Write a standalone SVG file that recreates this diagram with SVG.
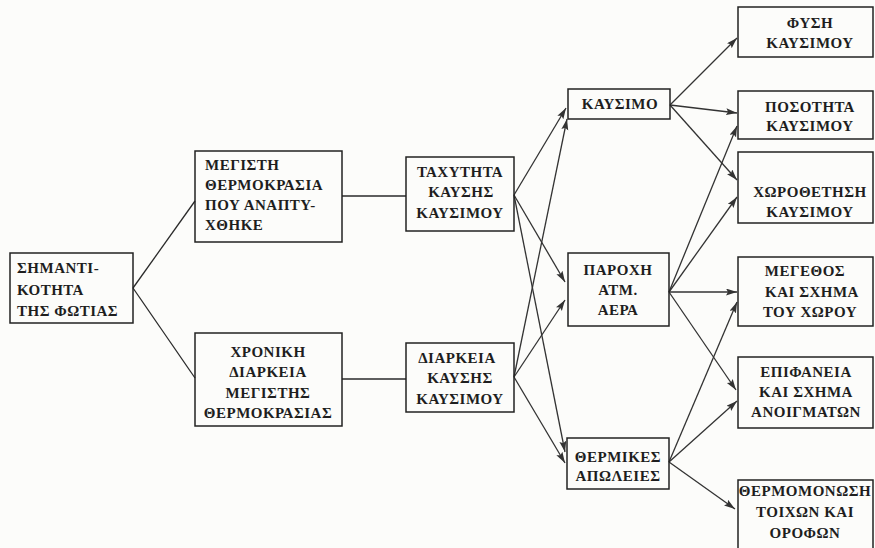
<svg xmlns="http://www.w3.org/2000/svg" width="875" height="548" viewBox="0 0 875 548">
  <defs>
    <marker id="arrow" markerUnits="userSpaceOnUse" markerWidth="12" markerHeight="8" refX="11" refY="3.5" orient="auto">
      <path d="M0,0 L11,3.5 L0,7 L2,3.5 z" fill="#333"/>
    </marker>
    <style>
      .box { fill: none; stroke: #222; stroke-width: 1.5; }
      .lbl { font-family: "Liberation Serif", "DejaVu Serif", serif; font-size: 15px; font-weight: bold; fill: #1e1e1e; letter-spacing: 0.5px; }
      .c { text-anchor: middle; }
      .edge { fill: none; stroke: #2a2a2a; stroke-width: 1.3; }
      .arr { fill: none; stroke: #333; stroke-width: 1.3; marker-end: url(#arrow); }
    </style>
  </defs>
  <rect width="875" height="548" fill="#fcfcfa"/>

  <!-- connectors -->
  <g id="connectors">
    <line class="edge" x1="133" y1="288" x2="195" y2="201"/>
    <line class="edge" x1="133" y1="288" x2="195" y2="378"/>
    <line class="edge" x1="342" y1="196" x2="406" y2="196"/>
    <line class="edge" x1="342" y1="379" x2="406" y2="379"/>

    <line class="arr" x1="514" y1="195" x2="566" y2="108"/>
    <line class="arr" x1="514" y1="195" x2="565" y2="282"/>
    <line class="arr" x1="514" y1="195" x2="565" y2="452"/>
    <line class="arr" x1="514" y1="377" x2="567" y2="119"/>
    <line class="arr" x1="514" y1="377" x2="565" y2="300"/>
    <line class="arr" x1="514" y1="377" x2="565" y2="463"/>

    <line class="arr" x1="670" y1="105" x2="737" y2="38"/>
    <line class="arr" x1="670" y1="105" x2="737" y2="113"/>
    <line class="arr" x1="670" y1="105" x2="737" y2="180"/>
    <line class="arr" x1="669" y1="292" x2="737" y2="126"/>
    <line class="arr" x1="669" y1="292" x2="737" y2="197"/>
    <line class="arr" x1="669" y1="292" x2="737" y2="292"/>
    <line class="arr" x1="669" y1="292" x2="736" y2="390"/>
    <line class="arr" x1="669" y1="462" x2="737" y2="302"/>
    <line class="arr" x1="669" y1="462" x2="737" y2="401"/>
    <line class="arr" x1="669" y1="462" x2="735" y2="509"/>
  </g>

  <!-- first level -->
  <g id="n-simantikotita">
    <rect class="box" x="10" y="253" width="123" height="70"/>
    <text class="lbl" x="17" y="273">ΣΗΜΑΝΤΙ-</text>
    <text class="lbl" x="17" y="295">ΚΟΤΗΤΑ</text>
    <text class="lbl" x="17" y="316">ΤΗΣ  ΦΩΤΙΑΣ</text>
  </g>

  <!-- second level -->
  <g id="n-megisti">
    <rect class="box" x="195" y="151" width="147" height="91"/>
    <text class="lbl" x="205" y="170">ΜΕΓΙΣΤΗ</text>
    <text class="lbl" x="205" y="190">ΘΕΡΜΟΚΡΑΣΙΑ</text>
    <text class="lbl" x="205" y="210">ΠΟΥ ΑΝΑΠΤΥ-</text>
    <text class="lbl" x="205" y="230">ΧΘΗΚΕ</text>
  </g>
  <g id="n-xroniki">
    <rect class="box" x="195" y="333" width="147" height="93"/>
    <text class="lbl c" x="268" y="357">ΧΡΟΝΙΚΗ</text>
    <text class="lbl c" x="268" y="377">ΔΙΑΡΚΕΙΑ</text>
    <text class="lbl c" x="268" y="398">ΜΕΓΙΣΤΗΣ</text>
    <text class="lbl c" x="268" y="418">ΘΕΡΜΟΚΡΑΣΙΑΣ</text>
  </g>

  <!-- third level -->
  <g id="n-taxytita">
    <rect class="box" x="406" y="157" width="108" height="74"/>
    <text class="lbl c" x="460" y="177">ΤΑΧΥΤΗΤΑ</text>
    <text class="lbl c" x="461" y="197">ΚΑΥΣΗΣ</text>
    <text class="lbl c" x="460" y="218">ΚΑΥΣΙΜΟΥ</text>
  </g>
  <g id="n-diarkeia">
    <rect class="box" x="406" y="343" width="108" height="69"/>
    <text class="lbl c" x="457" y="363">ΔΙΑΡΚΕΙΑ</text>
    <text class="lbl c" x="460" y="383">ΚΑΥΣΗΣ</text>
    <text class="lbl c" x="460" y="404">ΚΑΥΣΙΜΟΥ</text>
  </g>

  <!-- fourth level -->
  <g id="n-kausimo">
    <rect class="box" x="568" y="89" width="102" height="30"/>
    <text class="lbl c" x="620" y="109">ΚΑΥΣΙΜΟ</text>
  </g>
  <g id="n-paroxi">
    <rect class="box" x="568" y="253" width="101" height="73"/>
    <text class="lbl c" x="618" y="275">ΠΑΡΟΧΗ</text>
    <text class="lbl c" x="618" y="295">ΑΤΜ.</text>
    <text class="lbl c" x="618" y="315">ΑΕΡΑ</text>
  </g>
  <g id="n-thermikes">
    <rect class="box" x="567" y="438" width="102" height="51"/>
    <text class="lbl c" x="618" y="462">ΘΕΡΜΙΚΕΣ</text>
    <text class="lbl c" x="618" y="481">ΑΠΩΛΕΙΕΣ</text>
  </g>

  <!-- fifth level -->
  <g id="n-fysi">
    <rect class="box" x="738" y="7" width="135" height="50"/>
    <text class="lbl c" x="810" y="28">ΦΥΣΗ</text>
    <text class="lbl c" x="810" y="48">ΚΑΥΣΙΜΟΥ</text>
  </g>
  <g id="n-posotita">
    <rect class="box" x="738" y="91" width="135" height="48"/>
    <text class="lbl c" x="810" y="112">ΠΟΣΟΤΗΤΑ</text>
    <text class="lbl c" x="810" y="131">ΚΑΥΣΙΜΟΥ</text>
  </g>
  <g id="n-xorothetisi">
    <rect class="box" x="738" y="152" width="135" height="71"/>
    <text class="lbl c" x="810" y="197">ΧΩΡΟΘΕΤΗΣΗ</text>
    <text class="lbl c" x="810" y="217">ΚΑΥΣΙΜΟΥ</text>
  </g>
  <g id="n-megethos">
    <rect class="box" x="738" y="257" width="135" height="69"/>
    <text class="lbl c" x="805" y="276">ΜΕΓΕΘΟΣ</text>
    <text class="lbl c" x="812" y="297">ΚΑΙ  ΣΧΗΜΑ</text>
    <text class="lbl c" x="810" y="317">ΤΟΥ ΧΩΡΟΥ</text>
  </g>
  <g id="n-epifaneia">
    <rect class="box" x="738" y="357" width="135" height="71"/>
    <text class="lbl c" x="806" y="377">ΕΠΙΦΑΝΕΙΑ</text>
    <text class="lbl c" x="806" y="397">ΚΑΙ ΣΧΗΜΑ</text>
    <text class="lbl c" x="806" y="417">ΑΝΟΙΓΜΑΤΩΝ</text>
  </g>
  <g id="n-thermomonosi">
    <rect class="box" x="738" y="480" width="135" height="72"/>
    <text class="lbl c" x="805" y="496">ΘΕΡΜΟΜΟΝΩΣΗ</text>
    <text class="lbl c" x="805" y="517">ΤΟΙΧΩΝ  ΚΑΙ</text>
    <text class="lbl c" x="805" y="538">ΟΡΟΦΩΝ</text>
  </g>
</svg>
